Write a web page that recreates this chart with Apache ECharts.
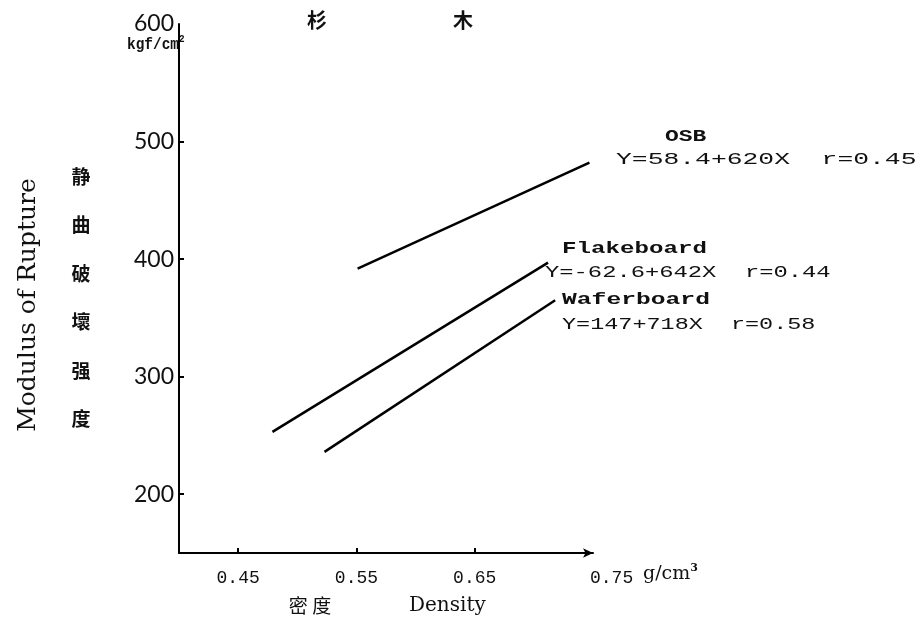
<!DOCTYPE html>
<html>
<head>
<meta charset="utf-8">
<script src="https://cdn.jsdelivr.net/npm/echarts@6.0.0/dist/echarts.min.js"></script>
<style>
  html, body { margin: 0; padding: 0; background: #fff; }
  #chart { width: 920px; height: 621px; }
</style>
</head>
<body>
<div id="chart"></div>
<script>
// 密度 (g/cm3) vs 静曲破壞强度 (kgf/cm2), 杉木
const osbX = [0.551, 0.747]
const osbY = [392, 482]
const flakeX = [0.479, 0.712]
const flakeY = [253, 397]
const waferX = [0.523, 0.718]
const waferY = [236, 365]
const xTicks = [0.45, 0.55, 0.65]
const yTicks = [200, 300, 400, 500]
const yLabels = [200, 300, 400, 500, 600]

const pairs = (xs, ys) => xs.map((x, i) => [x, ys[i]])

const monoText = (text, x, y, opts = {}) => ({
  type: "text",
  x: x,
  y: y,
  scaleX: opts.scaleX || 1,
  style: {
    text: text,
    font: (opts.weight || "normal") + " " + (opts.size || 17) + "px 'Liberation Mono'",
    fill: "#111",
    textVerticalAlign: "middle",
  },
})

const chart = echarts.init(document.getElementById("chart"))

const lineSeries = (name, data) => ({
  name: name,
  type: "line",
  data: data,
  symbol: "none",
  lineStyle: { color: "#000", width: 2.5 },
})

const option = {
  animation: false,
  backgroundColor: "#fff",
  grid: { left: 179, right: 327, top: 24, bottom: 68 },
  xAxis: {
    type: "value",
    min: 0.4,
    max: 0.75,
    axisLine: {
      lineStyle: { color: "#000", width: 2 },
      symbol: ["none", "arrow"],
      symbolSize: [7, 10],
    },
    axisTick: { customValues: xTicks, inside: true, length: 5, lineStyle: { color: "#000", width: 2 } },
    axisLabel: {
      customValues: xTicks,
      formatter: (v) => v.toFixed(2),
      color: "#111",
      fontFamily: "Liberation Mono",
      fontSize: 18,
      margin: 16,
    },
    splitLine: { show: false },
  },
  yAxis: {
    type: "value",
    min: 150,
    max: 600,
    axisLine: { show: true, lineStyle: { color: "#000", width: 2 } },
    axisTick: { show: true, customValues: yTicks, inside: true, length: 5, lineStyle: { color: "#000", width: 2 } },
    axisLabel: {
      customValues: yLabels,
      color: "#111",
      fontFamily: "Lato",
      fontSize: 23,
      margin: 5,
    },
    splitLine: { show: false },
  },
  series: [
    lineSeries("OSB", pairs(osbX, osbY)),
    lineSeries("Flakeboard", pairs(flakeX, flakeY)),
    lineSeries("Waferboard", pairs(waferX, waferY)),
  ],
  graphic: [
    {
      type: "text", x: 317, y: 20,
      style: { text: "杉", font: "bold 20px 'Noto Sans CJK SC'", fill: "#111", textAlign: "center", textVerticalAlign: "middle" },
    },
    {
      type: "text", x: 463, y: 20,
      style: { text: "木", font: "bold 20px 'Noto Sans CJK SC'", fill: "#111", textAlign: "center", textVerticalAlign: "middle" },
    },
    {
      type: "text", x: 127, y: 45, scaleX: 0.85,
      style: {
        text: "kgf/cm{s|2}",
        font: "bold 17px 'Liberation Mono'",
        fill: "#111",
        textVerticalAlign: "middle",
        rich: { s: { font: "bold 11px 'Liberation Mono'", verticalAlign: "top", padding: [0, 0, 12, 0] } },
      },
    },
    {
      type: "text", x: 28, y: 305, rotation: Math.PI / 2,
      style: { text: "Modulus of Rupture", font: "25px 'DejaVu Serif'", fill: "#111", textAlign: "center", textVerticalAlign: "middle" },
    },
    {
      type: "text", x: 81, y: 298,
      style: {
        text: "静\n曲\n破\n壞\n强\n度",
        font: "bold 19px 'Noto Sans CJK SC'",
        lineHeight: 48.5,
        fill: "#111",
        textAlign: "center",
        textVerticalAlign: "middle",
      },
    },
    {
      type: "text", x: 310, y: 606,
      style: { text: "密 度", font: "19px 'Noto Sans CJK SC'", fill: "#111", textAlign: "center", textVerticalAlign: "middle" },
    },
    {
      type: "text", x: 409, y: 606,
      style: { text: "Density", font: "20px 'DejaVu Serif'", fill: "#111", textVerticalAlign: "middle" },
    },
    monoText("0.75", 590, 578, { size: 18 }),
    {
      type: "text", x: 643, y: 574,
      style: {
        text: "g/cm{s|3}",
        font: "19px 'DejaVu Serif'",
        fill: "#111",
        textVerticalAlign: "middle",
        rich: { s: { font: "bold 11px 'DejaVu Serif'", verticalAlign: "top", padding: [0, 0, 12, 0] } },
      },
    },
    monoText("OSB", 665, 137, { weight: "bold", scaleX: 1.35 }),
    monoText("Y=58.4+620X  r=0.45", 616, 159, { scaleX: 1.55 }),
    monoText("Flakeboard", 562, 249, { weight: "bold", scaleX: 1.42 }),
    monoText("Y=-62.6+642X  r=0.44", 545, 272, { scaleX: 1.4 }),
    monoText("Waferboard", 562, 300, { weight: "bold", scaleX: 1.45 }),
    monoText("Y=147+718X  r=0.58", 562, 324, { scaleX: 1.38 }),
  ],
}
chart.setOption(option)
</script>
</body>
</html>
